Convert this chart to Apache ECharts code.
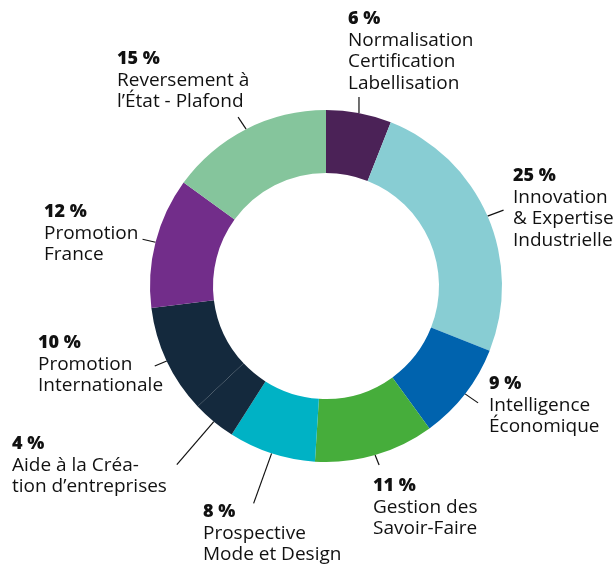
<!DOCTYPE html>
<html>
<head>
<meta charset="utf-8">
<script src="https://cdn.jsdelivr.net/npm/echarts@6/dist/echarts.min.js"></script>
<style>
html,body{margin:0;padding:0;background:#fff;}
#chart{width:615px;height:566px;}
</style>
</head>
<body>
<div id="chart"></div>
<script>
// ---- data ----
var categories = [
  'Normalisation\nCertification\nLabellisation',
  'Innovation\n& Expertise\nIndustrielle',
  'Intelligence\nÉconomique',
  'Gestion des\nSavoir-Faire',
  'Prospective\nMode et Design',
  'Aide à la Créa-\ntion d’entreprises',
  'Promotion\nInternationale',
  'Promotion\nFrance',
  'Reversement à\nl’État - Plafond'
];
var values = [6, 25, 9, 11, 8, 4, 10, 12, 15];
var colors = ['#4b2257', '#88cdd3', '#0063ae', '#46ad3b', '#00b2c5', '#14293d', '#14293d', '#722d8a', '#85c59c'];

// ---- label layout (positions of text blocks and leader-line tips) ----
var labelX = [348, 513, 489, 373, 203, 12, 38, 44, 117];
var labelY = [8, 165, 373, 475, 501, 433, 332, 201, 48];
var lineDX = [0, 16, 13, 4, -18, -37, -12, -13, -8];
var lineDY = [-16, -6, 9, 10, 50, 43, 5, -3, -12];

var chart = echarts.init(document.getElementById('chart'), null, {renderer: 'canvas'});
var data = categories.map(function (c, i) {
  return {name: c, value: values[i], itemStyle: {color: colors[i]}};
});
chart.setOption({
  animation: false,
  backgroundColor: '#ffffff',
  series: [{
    type: 'pie',
    center: [326, 286],
    radius: [113, 176],
    startAngle: 90,
    clockwise: true,
    avoidLabelOverlap: false,
    emphasis: {disabled: true},
    itemStyle: {borderWidth: 0},
    data: data,
    label: {
      show: true,
      position: 'outside',
      formatter: function (p) {
        return '{b|' + p.value + ' %}\n{n|' + p.name + '}';
      },
      rich: {
        b: {fontFamily: 'Open Sans', fontWeight: 800, fontSize: 18, lineHeight: 21.5, color: '#111'},
        n: {fontFamily: 'Open Sans', fontWeight: 'normal', fontSize: 19, lineHeight: 21.5, color: '#111'}
      }
    },
    labelLine: {
      show: true,
      length: 12,
      length2: 0,
      lineStyle: {color: '#111', width: 1.2}
    },
    labelLayout: function (params) {
      var i = params.dataIndex;
      var out = {x: labelX[i], y: labelY[i], align: 'left', verticalAlign: 'top'};
      if (params.labelLinePoints && params.labelLinePoints.length) {
        var a = params.labelLinePoints[0];
        out.labelLinePoints = [[a[0], a[1]], [a[0] + lineDX[i], a[1] + lineDY[i]]];
      }
      return out;
    }
  }]
});
</script>
</body>
</html>
